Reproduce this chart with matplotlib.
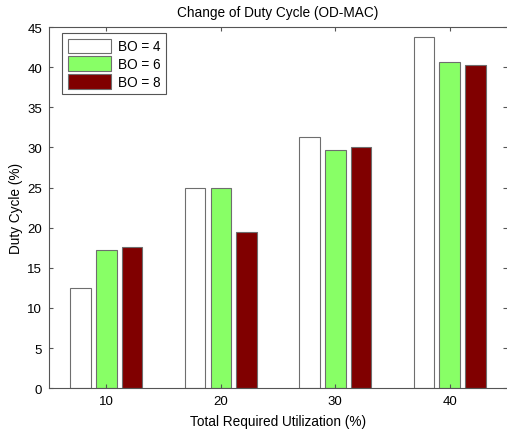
import numpy as np
import matplotlib.pyplot as plt

plt.rcParams['font.family'] = ['Liberation Sans', 'DejaVu Sans']

# data
utilization = [10, 20, 30, 40]
bo4 = [12.5, 25.0, 31.25, 43.8]
bo6 = [17.2, 25.0, 29.7, 40.7]
bo8 = [17.6, 19.5, 30.1, 40.3]
labels = ['BO = 4', 'BO = 6', 'BO = 8']
colors = ['white', '#88ff66', '#800000']

fig = plt.figure(figsize=(5.07, 4.31), dpi=100)
ax = fig.add_axes([0.097, 0.097, 0.903, 0.838])

x = np.array(utilization)
for i, (vals, lab, col) in enumerate(zip([bo4, bo6, bo8], labels, colors)):
    ax.bar(x + (i - 1) * 2.25, vals, width=1.8, color=col, edgecolor='#6e6e6e',
           linewidth=0.8, label=lab)

ax.set_xlim(5, 45)
ax.set_ylim(0, 45)
ax.set_xticks(utilization)
ax.set_yticks(np.arange(0, 46, 5))
ax.tick_params(direction='in', top=True, right=True, length=3, labelsize=9.5,
               color='#555555', pad=5)
for s in ax.spines.values():
    s.set_color('#555555')
    s.set_linewidth(0.8)
ax.spines['right'].set_visible(False)

ax.set_title('Change of Duty Cycle (OD-MAC)', fontsize=9.8, pad=8)
ax.set_xlabel('Total Required Utilization (%)', fontsize=9.8, labelpad=5)
ax.set_ylabel('Duty Cycle (%)', fontsize=9.8, labelpad=3)

leg = ax.legend(loc='upper left', fontsize=9.8, handlelength=3.2, handleheight=1.25,
                fancybox=False, framealpha=1, borderpad=0.4, labelspacing=0.22,
                handletextpad=0.45, borderaxespad=0,
                bbox_to_anchor=(0.029, 0.983))
leg.get_frame().set_edgecolor('#555555')
leg.get_frame().set_linewidth(0.8)

fig.savefig('out.png', dpi=100)
